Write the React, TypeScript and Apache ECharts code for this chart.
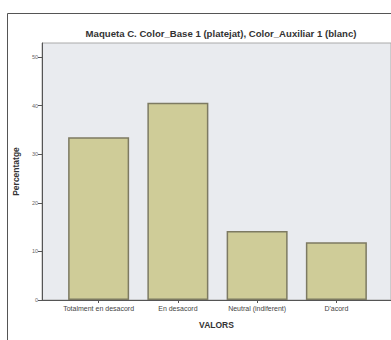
import React, { useEffect, useRef } from "react";
import * as echarts from "echarts";

const categories = ["Totalment en desacord", "En desacord", "Neutral (indiferent)", "D'acord"];
const percentages = [33.5, 40.6, 14.2, 11.9];
const yTicks = [0, 10, 20, 30, 40, 50];

export default function App() {
  const ref = useRef<HTMLDivElement>(null);
  useEffect(() => {
    const chart = echarts.init(ref.current!, null, { renderer: "svg" });
    chart.setOption({
      animation: false,
      backgroundColor: "#ffffff",
      title: {
        text: "Maqueta C. Color_Base 1 (platejat), Color_Auxiliar 1 (blanc)",
        left: 216,
        textAlign: "center",
        top: 23,
        textStyle: { fontSize: 9.6, fontWeight: "bold", color: "#333", fontFamily: "Liberation Sans" },
      },
      graphic: [
        {
          type: "rect",
          shape: { x: 7.5, y: 13.5, width: 420, height: 400 },
          style: { fill: "none", stroke: "#555", lineWidth: 1 },
          silent: true,
        },
      ],
      grid: [
        { left: 42, right: 0, top: 43, bottom: 40, show: true, backgroundColor: "#e9ebef", borderColor: "#aaa", borderWidth: 1 },
        { left: 59, right: 15, top: 43, bottom: 40 },
      ],
      xAxis: [
        {
          gridIndex: 0,
          type: "value",
          min: 0,
          max: 1,
          axisLine: { show: true, onZero: false, lineStyle: { color: "#555", width: 1 } },
          axisTick: { show: false },
          axisLabel: { show: false },
          splitLine: { show: false },
          name: "VALORS",
          nameLocation: "middle",
          nameGap: 20,
          nameTextStyle: { fontSize: 8.5, fontWeight: "bold", color: "#333", fontFamily: "Liberation Sans" },
        },
        {
          gridIndex: 1,
          type: "category",
          data: categories,
          axisLine: { show: false },
          axisTick: { show: true, alignWithLabel: true, length: 3, lineStyle: { color: "#555" } },
          axisLabel: { fontSize: 7, color: "#444", margin: 5, interval: 0, fontFamily: "Liberation Sans" },
        },
      ],
      yAxis: [
        {
          gridIndex: 0,
          type: "value",
          min: 0,
          max: 52.9,
          interval: 10,
          axisLine: { show: true, lineStyle: { color: "#555", width: 1 } },
          axisTick: { show: true, length: 4, lineStyle: { color: "#555" } },
          axisLabel: {
            fontSize: 5.5,
            color: "#666",
            margin: 4,
            formatter: (v: number) => (yTicks.includes(v) ? String(v) : ""),
            showMaxLabel: false,
          },
          splitLine: { show: false },
          name: "Percentatge",
          nameLocation: "middle",
          nameRotate: 90,
          nameGap: 21,
          nameTextStyle: { fontSize: 8.5, fontWeight: "bold", color: "#333", fontFamily: "Liberation Sans" },
        },
        {
          gridIndex: 1,
          type: "value",
          min: 0,
          max: 52.9,
          show: false,
        },
      ],
      series: [
        {
          type: "bar",
          xAxisIndex: 1,
          yAxisIndex: 1,
          data: percentages,
          barWidth: 61,
          itemStyle: { color: "#cfcc98", borderColor: "#7d7a62", borderWidth: 1.5 },
        },
      ],
    });
    return () => chart.dispose();
  }, []);
  return <div ref={ref} style={{ width: 391, height: 340, position: "absolute", left: 0, top: 0 }} />;
}
